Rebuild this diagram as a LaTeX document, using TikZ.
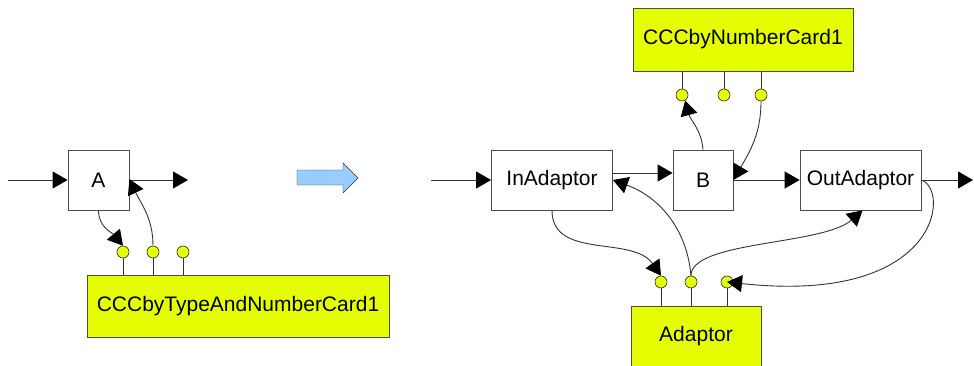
\documentclass[tikz,border=0pt]{standalone}
\usepackage{fontspec}
\setmainfont{Liberation Sans}
\usepackage{xcolor}
\usepackage{tikz}
\usetikzlibrary{arrows.meta}
\definecolor{cardyellow}{RGB}{230,255,0}
\definecolor{hintblue}{RGB}{153,204,255}

\begin{document}
\begin{tikzpicture}[x=1pt,y=1pt,font=\fontsize{21}{25}\selectfont,
  box/.style={draw=black!70,line width=0.8pt,fill=white,inner sep=0pt},
  card/.style={draw=black!70,line width=0.8pt,fill=cardyellow,inner sep=0pt},
  port/.style={circle,draw=black!85,line width=0.6pt,fill=cardyellow,inner sep=0pt,minimum size=12pt},
  wire/.style={draw=black!80,line width=0.9pt},
  arr/.style={wire,-{Triangle[length=15pt,width=17pt,color=black]}}]
  \useasboundingbox (0,0) rectangle (974,365);

  \node[box,minimum width=61pt,minimum height=60pt] (a) at (98.5,185) {A};
  \node[card,minimum width=302pt,minimum height=62pt] (ta) at (238,59) {CCCbyTypeAndNumberCard1};
  \node[port] (ta1) at (123,113) {};
  \node[port] (ta2) at (153,113) {};
  \node[port] (ta3) at (183,113) {};
  \coordinate (ain) at (8,185);
  \coordinate (aout) at (188,185);

  \draw[draw=black!80,fill=hintblue] (297,195) -- (343,195) -- (343,202) -- (358,187)
    -- (343,172) -- (343,180) -- (297,180) -- cycle;

  \node[box,minimum width=121pt,minimum height=60pt] (ia) at (552,185) {InAdaptor};
  \node[box,minimum width=60pt,minimum height=60pt] (b) at (703,185) {B};
  \node[box,minimum width=121pt,minimum height=60pt] (oa) at (860.5,185) {OutAdaptor};
  \node[card,minimum width=220pt,minimum height=63pt] (nc) at (743,325.5) {CCCbyNumberCard1};
  \node[port] (nc1) at (682,270) {};
  \node[port] (nc2) at (724,270) {};
  \node[port] (nc3) at (761,270) {};
  \node[card,minimum width=130pt,minimum height=60pt] (ad) at (696,29) {Adaptor};
  \node[port] (ad1) at (661,83) {};
  \node[port] (ad2) at (691,83) {};
  \node[port] (ad3) at (727,83) {};
  \coordinate (iin) at (431,185);
  \coordinate (oout) at (973,185);

  \draw[wire] (ta1) -- (ta1 |- ta.north);
  \draw[wire] (ta2) -- (ta2 |- ta.north);
  \draw[wire] (ta3) -- (ta3 |- ta.north);
  \draw[wire] (nc1) -- (nc1 |- nc.south);
  \draw[wire] (nc2) -- (nc2 |- nc.south);
  \draw[wire] (nc3) -- (nc3 |- nc.south);
  \draw[wire] (ad1) -- (ad1 |- ad.north);
  \draw[wire] (ad2) -- (ad2 |- ad.north);
  \draw[wire] (ad3) -- (ad3 |- ad.north);

  \draw[arr] (ain) -- (a.west);
  \draw[arr] (a.east) -- (aout);
  \draw[arr] (a.south) to[out=-90,in=130] (ta1.north);
  \draw[arr] (ta2.north) to[out=90,in=-65] ([yshift=1pt]a.east);

  \draw[arr] (iin) -- (ia.west);
  \draw[arr] ([yshift=7pt]ia.east) -- ([yshift=7pt]b.west);
  \draw[arr] (b.east) -- (oa.west);
  \draw[arr] (oa.east) -- (oout);
  \draw[arr] (b.north) to[out=95,in=-75] (nc1.-60);
  \draw[arr] (nc3.south) to[out=-90,in=60] (b.east);
  \draw[arr] (ia.south) to[out=-90,in=125] (ad1.north);
  \draw[arr] (ad2.north) to[out=95,in=-20] (ia.east);
  \draw[arr] (ad2.north) .. controls +(0,35) and +(-40,-35) .. ([xshift=2pt]oa.south);
  \draw[arr] (oa.east) .. controls +(29,-10) and +(213,-23) .. (ad3.center);
\end{tikzpicture}
\end{document}
